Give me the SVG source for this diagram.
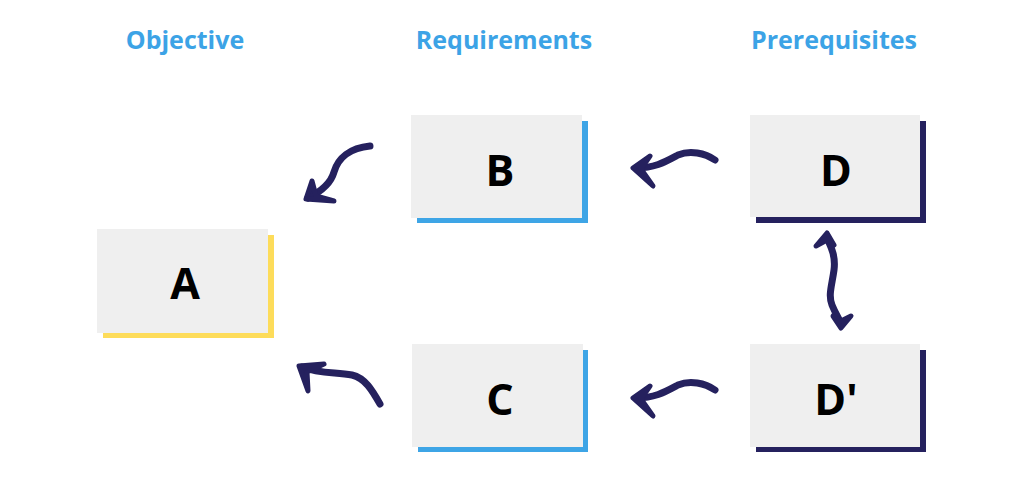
<svg xmlns="http://www.w3.org/2000/svg" width="1024" height="484" viewBox="0 0 1024 484">
<style>
.title{font-family:"Open Sans","Liberation Sans",sans-serif;font-weight:700;font-size:25px;fill:#3ca3e6;text-anchor:middle}
.box{fill:#efefef}
.lbl{font-family:"Open Sans","Liberation Sans",sans-serif;font-weight:700;font-size:43px;fill:#000000;text-anchor:middle}
.sy{fill:#fddc5a}
.sb{fill:#3ea5e6}
.sn{fill:#25215e}
.arr{fill:none;stroke:#25215e;stroke-width:7;stroke-linecap:round;stroke-linejoin:round}
.head{fill:#25215e;stroke:#25215e;stroke-width:5;stroke-linecap:round;stroke-linejoin:round}
</style>
<rect width="1024" height="484" fill="#ffffff"/>
<g id="titles">
<text class="title" x="185" y="49">Objective</text>
<text class="title" x="504" y="49">Requirements</text>
<text class="title" x="834" y="49">Prerequisites</text>
</g>
<g id="node-A">
<rect class="sy" x="103" y="235" width="171" height="103"/>
<rect class="box" x="97" y="229" width="171" height="104"/>
<text class="lbl" x="185" y="299">A</text>
</g>
<g id="node-B">
<rect class="sb" x="417" y="121" width="171" height="102"/>
<rect class="box" x="411" y="115" width="171" height="103"/>
<text class="lbl" x="500" y="186">B</text>
</g>
<g id="node-C">
<rect class="sb" x="418" y="350" width="170" height="102"/>
<rect class="box" x="412" y="344" width="171" height="103"/>
<text class="lbl" x="500" y="415">C</text>
</g>
<g id="node-D">
<rect class="sn" x="756" y="121" width="170" height="102"/>
<rect class="box" x="750" y="115" width="170" height="102"/>
<text class="lbl" x="836" y="186">D</text>
</g>
<g id="node-Dp">
<rect class="sn" x="756" y="350" width="170" height="102"/>
<rect class="box" x="750" y="344" width="170" height="103"/>
<text class="lbl" x="836" y="415">D'</text>
</g>
<g id="connectors">
<path class="arr" d="M370,146 C350,148 338,158 334,172 C331,183 320,192 308,198"/>
<path class="head" d="M312,181 L306,199 L334,201 L316,196 Z"/>
<path class="arr" d="M380,404 C372,390 365,378 352,375 C335,372 320,374 302,367"/>
<path class="head" d="M324,364 L299,366 L308,391 L307,372 Z"/>
<path class="arr" d="M715,160 C705,153 690,150 678,155 C665,162 655,168 636,168"/>
<path class="head" d="M650,156 L633,168 L653,186 L641,169 Z"/>
<g transform="translate(0,230)">
<path class="arr" d="M715,160 C705,153 690,150 678,155 C665,162 655,168 636,168"/>
<path class="head" d="M650,156 L633,168 L653,186 L641,169 Z"/>
</g>
<path class="arr" d="M827,238 C830,245 836,255 834,270 C832,285 828,295 832,305 C836,315 840,320 841,324"/>
<path class="head" d="M816,246 L827,233 L834,245 L827,240 Z"/>
<path class="head" d="M833,316 L841,328 L851,316 L841,321 Z"/>
</g>
</svg>
